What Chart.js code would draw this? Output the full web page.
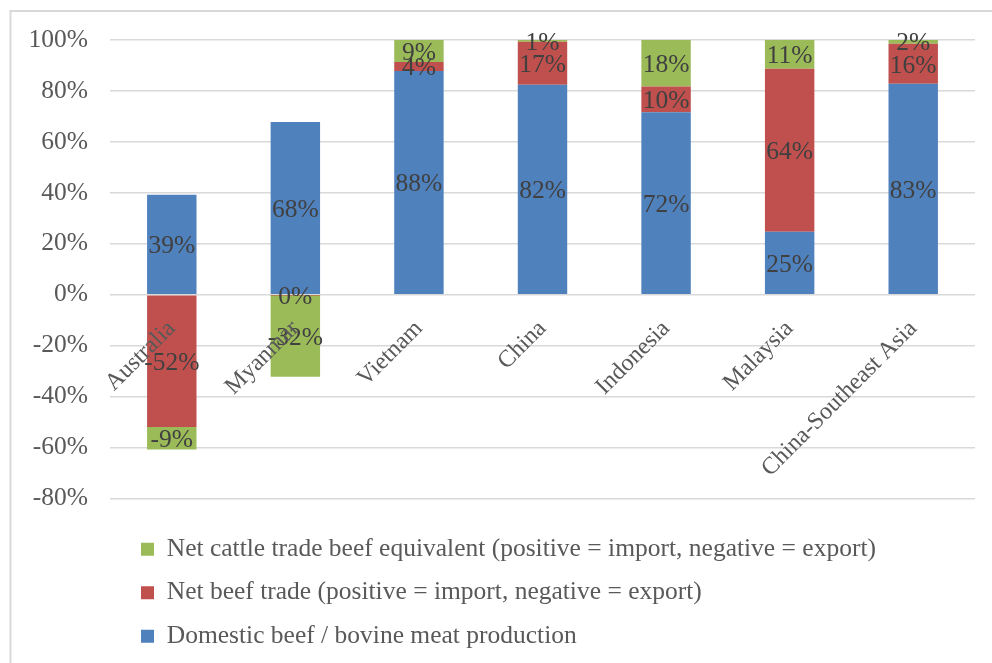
<!DOCTYPE html>
<html><head><meta charset="utf-8">
<script src="https://cdn.jsdelivr.net/npm/chart.js@4/dist/chart.umd.min.js"></script>
<style>html,body{margin:0;padding:0;background:#fff}#wrap{position:relative;width:992px;height:663px}</style>
</head><body><div id="wrap"><canvas id="c"></canvas></div>
<script>
const categories = ['Australia', 'Myanmar', 'Vietnam', 'China', 'Indonesia', 'Malaysia', 'China-Southeast Asia'];
const domesticProduction = [39.2, 67.8, 87.8, 82.4, 71.6, 24.7, 82.8];
const netBeefTrade = [-51.9, -0.1, 3.6, 16.9, 10.1, 64.0, 15.7];
const netCattleTrade = [-8.9, -32.1, 8.6, 0.7, 18.3, 11.3, 1.6];
const seriesNames = [
  'Domestic beef / bovine meat production',
  'Net beef trade (positive = import, negative = export)',
  'Net cattle trade beef equivalent (positive = import, negative = export)'
];
const yMin = -80, yMax = 100, yStep = 20;

const FONT = "'Liberation Serif', 'Times New Roman', serif";

const borderPlugin = {
  id: 'outerBorder',
  beforeDraw(chart) {
    const ctx = chart.ctx;
    ctx.save();
    ctx.strokeStyle = '#d9d9d9';
    ctx.lineWidth = 2;
    ctx.beginPath();
    ctx.moveTo(10.5, chart.height + 5);
    ctx.lineTo(10.5, 11);
    ctx.lineTo(chart.width + 5, 11);
    ctx.stroke();
    ctx.restore();
  }
};

const legendShift = {
  id: 'legendShift',
  afterLayout(chart) {
    if (chart.legend) { chart.legend.left += 13; chart.legend.right += 13; }
  }
};

const valueLabelPlugin = {
  id: 'valueLabels',
  afterDatasetsDraw(chart) {
    const ctx = chart.ctx;
    ctx.save();
    ctx.font = '25.5px ' + FONT;
    ctx.fillStyle = '#404040';
    ctx.textAlign = 'center';
    ctx.textBaseline = 'middle';
    chart.data.datasets.forEach((ds, di) => {
      const meta = chart.getDatasetMeta(di);
      meta.data.forEach((el, i) => {
        const v = ds.data[i];
        const y = (el.y + el.base) / 2 + 2;
        let r = Math.round(v);
        if (Object.is(r, -0)) r = 0;
        ctx.fillText(r + '%', el.x, y);
      });
    });
    ctx.restore();
  }
};

new Chart(document.getElementById('c'), {
  type: 'bar',
  data: {
    labels: categories,
    datasets: [
      { label: seriesNames[0], data: domesticProduction, backgroundColor: '#4F81BD', borderWidth: 0 },
      { label: seriesNames[1], data: netBeefTrade, backgroundColor: '#C0504D', borderWidth: 0 },
      { label: seriesNames[2], data: netCattleTrade, backgroundColor: '#9BBB59', borderWidth: 0 }
    ]
  },
  options: {
    responsive: true,
    maintainAspectRatio: false,
    animation: false,
    datasets: { bar: { categoryPercentage: 1.0, barPercentage: 0.4 } },
    layout: { padding: { top: 40, left: 0, right: 17, bottom: 4 } },
    plugins: {
      tooltip: { enabled: false },
      legend: {
        position: 'bottom',
        align: 'start',
        fullSize: false,
        reverse: true,
        title: { display: true, text: '', font: { size: 1, lineHeight: 1 }, padding: { top: 19, bottom: 0 } },
        labels: {
          boxWidth: 13, boxHeight: 13, padding: 18,
          color: '#595959',
          font: { family: FONT, size: 25.5 }
        }
      }
    },
    scales: {
      x: {
        stacked: true,
        position: { y: 0 },
        grid: { display: false, drawTicks: false },
        border: { display: false },
        ticks: {
          z: 1,
          autoSkip: false, minRotation: 45, maxRotation: 45, padding: 20,
          color: '#595959', font: { family: FONT, size: 24 }
        },
        afterFit(scale) { scale.height = 0; }
      },
      y: {
        stacked: true,
        min: yMin, max: yMax,
        grid: { color: '#d9d9d9', lineWidth: 1.5, drawTicks: false },
        border: { display: false },
        ticks: {
          stepSize: yStep, padding: 22,
          color: '#595959', font: { family: FONT, size: 25.5 },
          callback: v => v + '%'
        },
        afterFit(scale) { scale.width = 110; }
      }
    }
  },
  plugins: [borderPlugin, legendShift, valueLabelPlugin]
});
</script>
</body></html>
